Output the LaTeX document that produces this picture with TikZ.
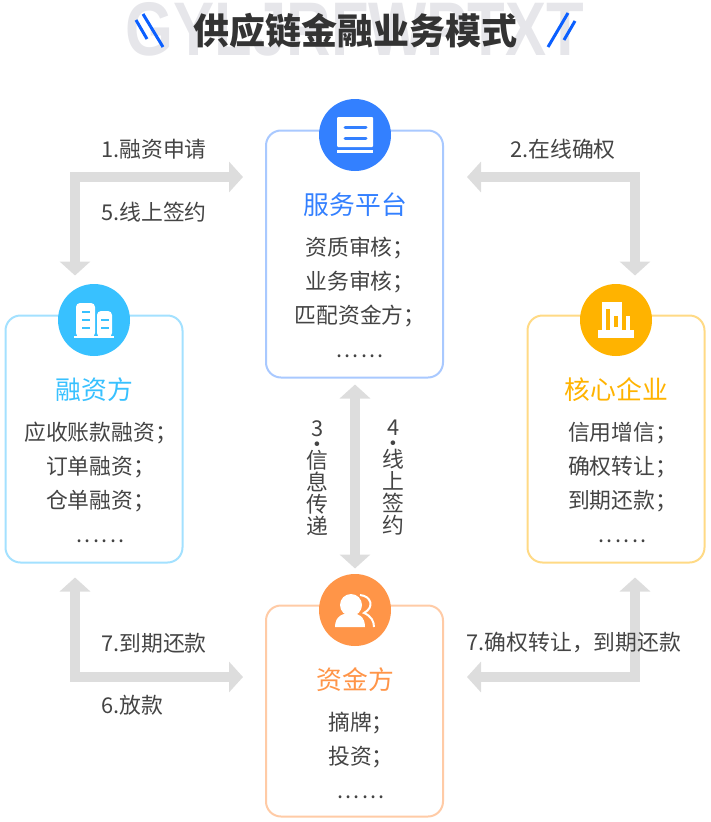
\documentclass[tikz,border=0pt]{standalone}
\usepackage{fontspec}
\setmainfont{Noto Sans CJK SC}
\newfontfamily\markfont{Liberation Sans}
\usetikzlibrary{arrows.meta}
\usetikzlibrary{calc}
\definecolor{svcblue}{HTML}{3380FF}
\definecolor{svcedge}{HTML}{A9C9FF}
\definecolor{finblue}{HTML}{38C1FF}
\definecolor{finedge}{HTML}{A3E1FF}
\definecolor{coreamber}{HTML}{FFB300}
\definecolor{coreedge}{HTML}{FFDA85}
\definecolor{fundorange}{HTML}{FF9548}
\definecolor{fundedge}{HTML}{FFCBA6}
\definecolor{flowgray}{HTML}{DDDDDD}
\definecolor{inkgray}{HTML}{444444}
\definecolor{markgray}{HTML}{E6E6EA}
\definecolor{slashblue}{HTML}{0B5FFF}
\newcommand{\sixdots}{.\kern2.3pt.\kern2.3pt.\kern2.3pt.\kern2.3pt.\kern2.3pt.}

\begin{document}
\begin{tikzpicture}[x=1pt,y=-1pt]
\tikzstyle{panel}=[draw,line width=2pt,rounded corners=15pt,minimum width=177pt,fill=white,inner sep=0pt]
\tikzstyle{badge}=[circle,inner sep=0pt,minimum size=72pt]
\tikzstyle{heading}=[font=\fontsize{25.8}{30}\selectfont]
\tikzstyle{body}=[font=\fontsize{21.8}{34}\selectfont,text=inkgray,align=center,inner sep=0pt]
\tikzstyle{tag}=[font=\fontsize{21.8}{24}\selectfont,text=inkgray,inner sep=0pt]
\tikzstyle{stack}=[font=\fontsize{21.8}{22}\selectfont,text=inkgray,align=center,inner sep=0pt]
\tikzstyle{flow}=[draw=flowgray,line width=10pt,{Triangle[length=14pt,width=30pt]}-{Triangle[length=14pt,width=30pt]}]
\tikzstyle{slash}=[draw=slashblue,line width=3pt]
\useasboundingbox (0,0) rectangle (710,822);

\node (watermark) [inner sep=0pt,text=markgray,font=\markfont\bfseries\fontsize{76}{76}\selectfont,xscale=0.81] at (355,29) {GYLJRFWPTXT};
\node (title) [inner sep=0pt,text=black!80,font=\bfseries\fontsize{36}{40}\selectfont] at (355,31) {供应链金融业务模式};
\coordinate (sl1) at (143,14);
\coordinate (sl2) at (163,47);
\coordinate (sl3) at (136,20);
\coordinate (sl4) at (147,39);
\coordinate (sr1) at (568,13);
\coordinate (sr2) at (548,47);
\coordinate (sr3) at (575,21);
\coordinate (sr4) at (564,40);
\draw [slash] (sl1) -- (sl2);
\draw [slash] (sl3) -- (sl4);
\draw [slash] (sr1) -- (sr2);
\draw [slash] (sr3) -- (sr4);

\node (service) [panel,draw=svcedge,minimum height=247pt] at (354.5,254) {};
\node (finance) [panel,draw=finedge,minimum height=247pt] at (94,439) {};
\node (core) [panel,draw=coreedge,minimum height=247pt] at (616,439) {};
\node (fund) [panel,draw=fundedge,minimum height=211pt] at (354.5,711) {};

\node (servicebadge) [badge,fill=svcblue] at (355,135) {};
\node (financebadge) [badge,fill=finblue] at (94,320) {};
\node (corebadge) [badge,fill=coreamber] at (616,320) {};
\node (fundbadge) [badge,fill=fundorange] at (355,610) {};

\node (servicehead) [heading,text=svcblue] at (355.5,205) {服务平台};
\node (financehead) [heading,text=finblue] at (94.5,390) {融资方};
\node (corehead) [heading,text=coreamber] at (616.5,390) {核心企业};
\node (fundhead) [heading,text=fundorange] at (355.5,680) {资金方};

\node (servicetext) [body] at (360,297.5) {资质审核；\\业务审核；\\匹配资金方；\\\sixdots};
\node (financetext) [body] at (100.5,482.5) {应收账款融资；\\订单融资；\\仓单融资；\\\sixdots};
\node (coretext) [body] at (622.5,482.5) {信用增信；\\确权转让；\\到期还款；\\\sixdots};
\node (fundtext) [body] at (361,755.5) {摘牌；\\投资；\\\sixdots};

\coordinate (svcleft) at ($(service.west)+(-22,-77)$);
\coordinate (svcright) at ($(service.east)+(23,-77)$);
\coordinate (svcdown) at ($(service.south)+(0.5,6)$);
\coordinate (fundup) at ($(fund.north)+(0.5,-36)$);
\coordinate (fundleft) at ($(fund.west)+(-22,-34)$);
\coordinate (fundright) at ($(fund.east)+(23,-34)$);
\coordinate (fintop) at ($(finance.north)+(-19,-39)$);
\coordinate (finbottom) at ($(finance.south)+(-19,14)$);
\coordinate (coretop) at ($(core.north)+(19,-39)$);
\coordinate (corebottom) at ($(core.south)+(19,14)$);

\draw [flow] (fintop) |- (svcleft);
\draw [flow] (coretop) |- (svcright);
\draw [flow] (svcdown) -- (fundup);
\draw [flow] (finbottom) |- (fundleft);
\draw [flow] (corebottom) |- (fundright);

\node (apply) [tag] at (154,149.5) {1.融资申请};
\node (signa) [tag] at (154,212.5) {5.线上签约};
\node (confirm) [tag] at (563,149.5) {2.在线确权};
\node (repaya) [tag] at (154,643.5) {7.到期还款};
\node (lend) [tag] at (132,705.5) {6.放款};
\node (repayb) [tag] at (574,642.5) {7.确权转让，到期还款};
\node (relay) [stack] at (317.5,478) {3\\[-6pt]·\\[-6pt]信\\息\\传\\递};
\node (signb) [stack] at (393.5,478) {4\\[-6pt]·\\[-6pt]线\\上\\签\\约};

% icons
\fill [white,rounded corners=1pt] (337,117) rectangle (373,147);
\fill [white] (337,150) rectangle (373,153);
\draw [svcblue,line width=3pt,line cap=round] (345,127) -- (366,127);
\draw [svcblue,line width=3pt,line cap=round] (345,138) -- (366,138);

\fill [white,rounded corners=4pt] (76,337) -- (76,303) -- (95,303) -- (95,337) -- cycle;
\fill [white,rounded corners=4pt] (97,337) -- (97,311) -- (112,311) -- (112,337) -- cycle;
\fill [white] (74,336) rectangle (114,338);
\foreach \yy in {312,320,328} \draw [finblue,line width=2pt] (82,\yy) -- (90,\yy);
\foreach \yy in {320,328} \draw [finblue,line width=2pt] (101,\yy) -- (109,\yy);

\fill [white] (602,302) rectangle (622,330);
\fill [white] (622,316) rectangle (630,330);
\fill [white] (598,330) rectangle (634,338);
\fill [coreamber] (606,309) rectangle (610,330);
\fill [coreamber] (614,316) rectangle (618,327);
\fill [coreamber] (622,316) rectangle (626,330);

\fill [white] (351,605) circle (11pt);
\fill [white] (335,627) .. controls (335,616) and (343,613) .. (351,613) .. controls (359,613) and (365,617) .. (365,627) -- cycle;
\draw [white,line width=2pt] (360,595) .. controls (371,596) and (375,607) .. (364,613) .. controls (371,616) and (374,621) .. (374,627);
\end{tikzpicture}
\end{document}
